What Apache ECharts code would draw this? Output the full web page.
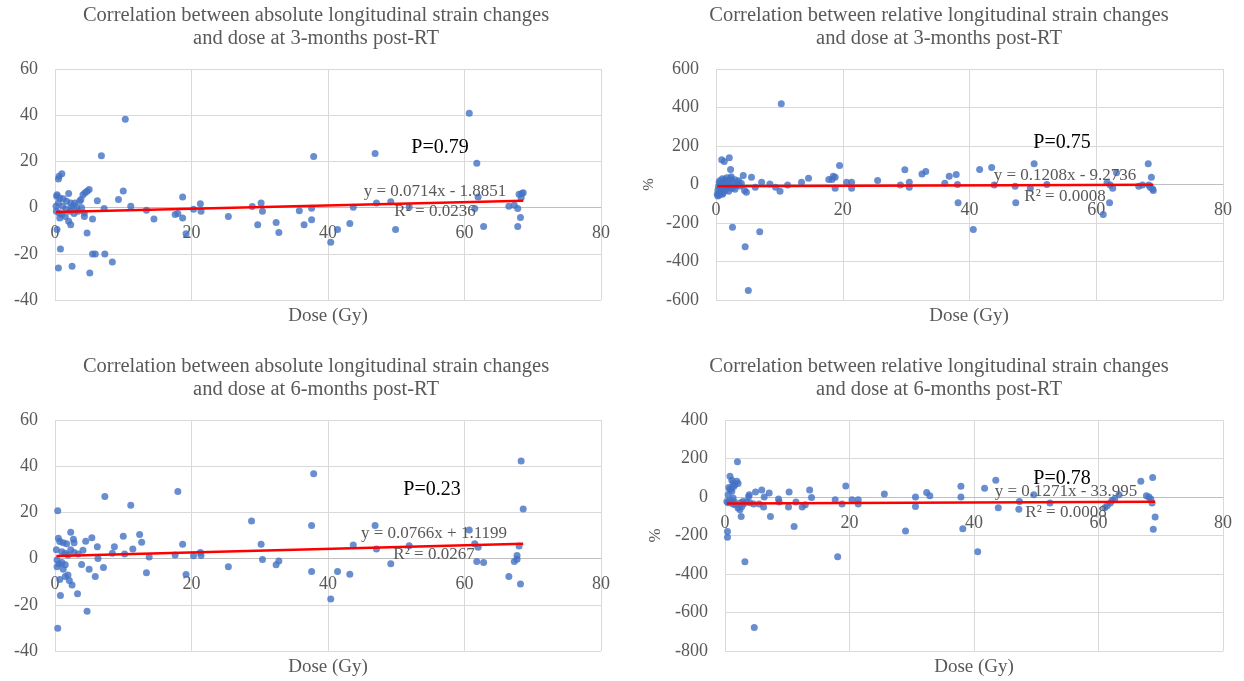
<!DOCTYPE html>
<html><head><meta charset="utf-8">
<script src="https://cdn.jsdelivr.net/npm/echarts@6/dist/echarts.min.js"></script>
<style>html,body{margin:0;padding:0;background:#fff}#c{width:1244px;height:681px}</style>
</head><body><div id="c"></div>
<script>
// Panel 1: absolute longitudinal strain change vs dose, 3 months
const absDose3 = [10.3,6.8,1.0,0.6,0.5,0.3,0.25,0.7,1.2,1.7,2.0,2.3,2.7,3.2,3.9,4.1,4.4,4.7,5.0,3.8,6.2,7.2,10.0,9.3,11.1,13.4,14.5,17.6,18.0,18.7,18.7,19.2,20.3,21.3,21.4,25.4,0.3,0.8,0.5,2.5,4.7,5.1,5.5,5.9,7.3,8.4,0.7,1.0,1.5,2.0,2.3,2.8,4.3,4.3,5.5,0.15,0.5,1.1,1.6,2.2,3.4,2.4,2.9,0.2,0.6,3.6,
  28.9,30.2,30.4,29.7,32.4,32.8,35.8,36.5,37.6,37.6,37.9,40.4,41.4,43.2,43.7,46.9,47.1,49.2,49.9,51.9,60.7,61.8,61.5,62.0,62.8,66.5,67.3,67.8,67.8,68.2,68.0,68.4,68.6,68.3];
const absStrain3 = [38.2,22.4,14.6,13.6,12.4,5.6,4.9,4.2,3.8,2.7,6.1,2.0,0.9,-0.1,-0.1,5.6,6.4,7.1,7.8,3.5,3.0,-0.4,7.2,3.5,0.6,-1.2,-4.9,-3.0,-2.6,4.6,-4.5,-11.3,-0.7,1.7,-1.6,-3.8,-9.5,-17.9,-26.2,-25.4,-11.0,-28.3,-20.1,-20.1,-20.1,-23.6,-4.5,-3.0,-3.8,-5.9,-7.4,-2.6,-3.8,-2.3,-4.9,0.6,2.0,0.6,-0.6,-1.6,-1.6,-0.1,2.0,-1.6,-2.3,2.7,
  0.5,2.0,-1.6,-7.4,-6.5,-10.8,-1.4,-7.4,-5.3,-0.3,22.1,-15.0,-9.5,-6.9,0.1,23.4,2.0,2.5,-9.5,0.3,40.8,19.2,-0.4,4.6,-8.2,0.6,1.0,-0.4,-8.2,-4.3,5.8,6.1,6.4,4.3];
const trendX1 = [0.15, 68.6];
const trendY1 = [-1.874, 3.013];

// Panel 2: relative longitudinal strain change (%) vs dose, 3 months
const relDose3 = [10.3,0.9,1.3,2.1,2.3,19.5,18.8,18.5,17.8,18.3,14.6,13.5,11.3,10.1,9.4,8.5,7.2,6.2,5.6,4.3,4.8,4.5,2.6,6.9,4.6,5.1,18.8,20.6,21.4,21.4,25.5,29.1,
  0.2,0.3,0.4,0.5,0.6,0.7,0.8,0.9,1.0,1.1,1.2,1.3,1.4,1.5,1.6,1.7,1.8,1.9,2.0,2.1,2.2,2.3,2.5,2.6,2.8,3.0,3.2,3.4,3.6,0.3,0.5,1.0,0.6,2.4,3.0,3.8,4.0,
  29.8,30.5,30.5,32.5,33.1,36.1,36.8,37.9,38.1,38.2,40.6,41.6,43.5,43.9,47.2,47.3,49.6,50.2,52.2,61.1,62.1,61.7,62.2,62.6,63.2,66.7,67.3,68.2,68.7,68.3,68.5,68.9,69.0];
const relStrain3 = [420,128,120,139,78,99,38,43,26,26,33,12,-2,-35,-14,3,12,-14,38,47,-40,-31,-222,-246,-323,-551,-19,12,12,-19,21,-2,
  -50,-30,-10,10,20,-40,-20,5,30,-45,15,-10,25,-30,0,35,-15,10,-35,20,-5,30,-20,15,-10,25,-5,10,20,-60,-55,-50,-45,40,-25,-8,5,
  76,12,-14,55,68,7,43,52,0,-95,-234,78,88,-2,-9,-95,-19,108,0,-156,-95,9,-2,-19,61,-9,-2,108,38,-2,-14,-23,-31];
const trendX2 = [0.2, 69.0];
const trendY2 = [-9.25, -0.94];

// Panel 3: absolute longitudinal strain change vs dose, 6 months
const absDose6 = [0.4,0.4,0.8,3.3,4.7,7.3,11.1,18.0,12.4,12.7,11.4,10.0,8.7,8.4,10.2,6.2,6.3,7.1,5.4,4.5,4.1,3.9,5.0,5.9,2.3,2.7,2.8,0.5,0.7,1.2,1.7,0.2,1.0,1.5,1.9,2.3,2.8,3.4,0.3,0.6,1.0,1.5,1.2,0.7,1.5,1.9,2.1,2.5,0.3,13.4,13.8,17.6,18.7,19.2,20.3,21.3,21.4,25.4,
  28.8,30.2,30.4,32.4,32.8,37.6,37.6,37.9,40.4,41.4,43.2,43.7,46.9,47.1,49.2,51.9,60.7,61.5,62.0,61.8,62.8,66.5,67.3,67.7,67.7,68.2,68.0,68.3,68.6];
const absStrain6 = [20.7,-30.2,-16.0,-15.2,-22.8,26.9,23.1,29.0,10.4,7.1,4.2,9.7,5.1,2.3,2.0,5.1,0,-3.9,9.0,7.5,3.6,-2.6,-4.6,-7.7,11.4,8.4,6.9,8.8,7.4,6.9,6.4,3.8,3.0,2.3,1.6,3.8,2.6,2.0,-0.6,-2.3,-1.7,-2.7,-4.6,-9.0,-7.8,-7.1,-9.5,-11.4,-3.5,-6.1,0.7,1.6,6.2,-6.9,1.2,2.6,1.3,-3.5,
  16.3,6.2,-0.4,-2.7,-1.0,14.3,-5.6,36.7,-17.5,-5.6,-6.8,5.9,14.3,4.2,-2.2,5.6,12.4,6.4,4.9,-1.3,-1.7,-7.7,-1.3,-0.3,1.3,-11.0,5.5,42.2,21.5];
const trendX3 = [0.2, 68.6];
const trendY3 = [1.135, 6.375];

// Panel 4: relative longitudinal strain change (%) vs dose, 6 months
const relDose6 = [2.0,4.7,3.2,18.1,11.1,29.0,0.4,0.4,0.8,1.1,1.3,1.6,1.9,2.1,0.8,0.5,1.1,1.3,0.3,1.6,2.1,2.6,2.4,2.7,2.9,3.8,3.9,4.6,4.9,5.5,5.9,6.2,6.3,7.1,7.3,8.6,8.7,10.2,10.3,11.4,12.4,12.9,13.6,13.9,17.7,18.8,19.4,20.4,21.4,21.4,25.6,
  0.5,0.8,1.2,1.5,2.5,3.0,3.5,4.0,0.6,1.0,1.4,
  30.6,30.6,32.4,32.9,37.9,37.9,38.2,40.6,41.7,43.5,43.9,47.2,47.3,49.6,52.2,61.0,61.4,61.9,62.2,62.6,63.3,66.8,67.7,68.1,68.4,68.6,68.7,69.1,68.8];
const relStrain6 = [183,-678,-337,-311,-153,-177,-179,-209,108,87,73,64,82,70,38,12,30,-5,-23,-40,-57,-101,-66,-49,-23,3,12,-37,26,-37,37,-52,0,21,-101,-10,-26,-52,26,-26,-52,-40,37,-3,-14,-37,57,-14,-14,-37,16,
  -30,-20,-35,-25,-30,-35,-25,-30,50,45,55,
  0,-49,24,7,56,0,-165,-285,45,87,-56,-63,-23,12,-31,-56,-45,-31,-17,-10,12,82,7,0,-10,-31,101,-104,-167];
const trendX4 = [0.3, 69.1];
const trendY4 = [-33.96, -25.21];

const xTicks = [0, 80, 20];

const titles = [
  'Correlation between absolute longitudinal strain changes\nand dose at 3-months post-RT',
  'Correlation between relative longitudinal strain changes\nand dose at 3-months post-RT',
  'Correlation between absolute longitudinal strain changes\nand dose at 6-months post-RT',
  'Correlation between relative longitudinal strain changes\nand dose at 6-months post-RT'
];
const pLabels = ['P=0.79', 'P=0.75', 'P=0.23', 'P=0.78'];
const eqLabels = ['y = 0.0714x - 1.8851', 'y = 0.1208x - 9.2736', 'y = 0.0766x + 1.1199', 'y = 0.1271x - 33.995'];
const r2Labels = ['R\u00b2 = 0.0236', 'R\u00b2 = 0.0008', 'R\u00b2 = 0.0267', 'R\u00b2 = 0.0008'];
const yRanges = [[-40, 60, 20], [-600, 600, 200], [-40, 60, 20], [-800, 400, 200]];
const yNames = ['', '%', '', '%'];

const grids = [
  {left: 55, top: 69, width: 546, height: 231},
  {left: 716, top: 69, width: 507, height: 231},
  {left: 55, top: 420, width: 546, height: 231},
  {left: 725, top: 420, width: 498, height: 231}
];
const titlePos = [[316, 27], [939, 27], [316, 378], [939, 378]];
const doseNamePos = [[328, 316], [969, 316], [328, 667], [974, 667]];
const pPos = [[440, 148], [1062, 143], [432, 490], [1062, 479]];
const eqPos = [[435, 192], [1065, 176], [434, 534], [1066, 492]];
const r2Pos = [[435, 212], [1065, 197], [434, 555], [1066, 513]];
const yNameGap = [60, 59, 60, 61];
const yNameSize = [15, 15, 15, 17];

const serif = '"Liberation Serif", "Times New Roman", serif';
const gray = '#595959';

const dosesAll = [absDose3, relDose3, absDose6, relDose6];
const strainsAll = [absStrain3, relStrain3, absStrain6, relStrain6];
const trendsX = [trendX1, trendX2, trendX3, trendX4];
const trendsY = [trendY1, trendY2, trendY3, trendY4];

const xAxes = [], yAxes = [], series = [], graphics = [];
for (let i = 0; i < 4; i++) {
  const ymin = yRanges[i][0], ymax = yRanges[i][1];
  // place the horizontal axis at the value-zero line (Excel style)
  const zeroOffset = -grids[i].height * (0 - ymin) / (ymax - ymin);
  xAxes.push({
    gridIndex: i, type: 'value', min: xTicks[0], max: xTicks[1], interval: xTicks[2],
    position: 'bottom', offset: zeroOffset,
    axisLine: {show: true, onZero: false, lineStyle: {color: '#BFBFBF', width: 1}},
    axisTick: {show: false},
    axisLabel: {color: gray, fontFamily: serif, fontSize: 18, margin: 17},
    splitLine: {show: true, lineStyle: {color: '#D9D9D9', width: 1}}
  });
  yAxes.push({
    gridIndex: i, type: 'value', min: ymin, max: ymax, interval: yRanges[i][2],
    axisLine: {show: false}, axisTick: {show: false},
    axisLabel: {color: gray, fontFamily: serif, fontSize: 18, margin: 17},
    splitLine: {show: true, lineStyle: {color: '#D9D9D9', width: 1}},
    name: yNames[i], nameLocation: 'middle', nameRotate: 90, nameGap: yNameGap[i],
    nameTextStyle: {color: gray, fontFamily: serif, fontSize: yNameSize[i]}
  });
  const pts = dosesAll[i].map((d, k) => [d, strainsAll[i][k]]);
  series.push({
    type: 'scatter', xAxisIndex: i, yAxisIndex: i, data: pts,
    symbolSize: 7, itemStyle: {color: '#4472C4'}, z: 2, silent: true
  });
  series.push({
    type: 'line', xAxisIndex: i, yAxisIndex: i,
    data: trendsX[i].map((d, k) => [d, trendsY[i][k]]),
    showSymbol: false, symbol: 'none', lineStyle: {color: '#FF0000', width: 2.5}, z: 3, silent: true
  });
  graphics.push({type: 'text', x: titlePos[i][0], y: titlePos[i][1],
    style: {text: titles[i], font: '20.5px ' + serif, fill: gray, align: 'center', verticalAlign: 'middle', lineHeight: 23}});
  graphics.push({type: 'text', x: doseNamePos[i][0], y: doseNamePos[i][1],
    style: {text: 'Dose (Gy)', font: '19px ' + serif, fill: gray, align: 'center', verticalAlign: 'middle'}});
  graphics.push({type: 'text', x: pPos[i][0], y: pPos[i][1], z: 10,
    style: {text: pLabels[i], font: '20px ' + serif, fill: '#000000', align: 'center', verticalAlign: 'middle'}});
  graphics.push({type: 'text', x: eqPos[i][0], y: eqPos[i][1], z: 10,
    style: {text: eqLabels[i], font: '17px ' + serif, fill: gray, align: 'center', verticalAlign: 'middle'}});
  graphics.push({type: 'text', x: r2Pos[i][0], y: r2Pos[i][1], z: 10,
    style: {text: r2Labels[i], font: '17px ' + serif, fill: gray, align: 'center', verticalAlign: 'middle'}});
}

const chart = echarts.init(document.getElementById('c'), null, {renderer: 'canvas'});
chart.setOption({
  animation: false,
  backgroundColor: '#ffffff',
  grid: grids.map(g => Object.assign({containLabel: false}, g)),
  xAxis: xAxes,
  yAxis: yAxes,
  series: series,
  graphic: graphics
});
</script>
</body></html>
